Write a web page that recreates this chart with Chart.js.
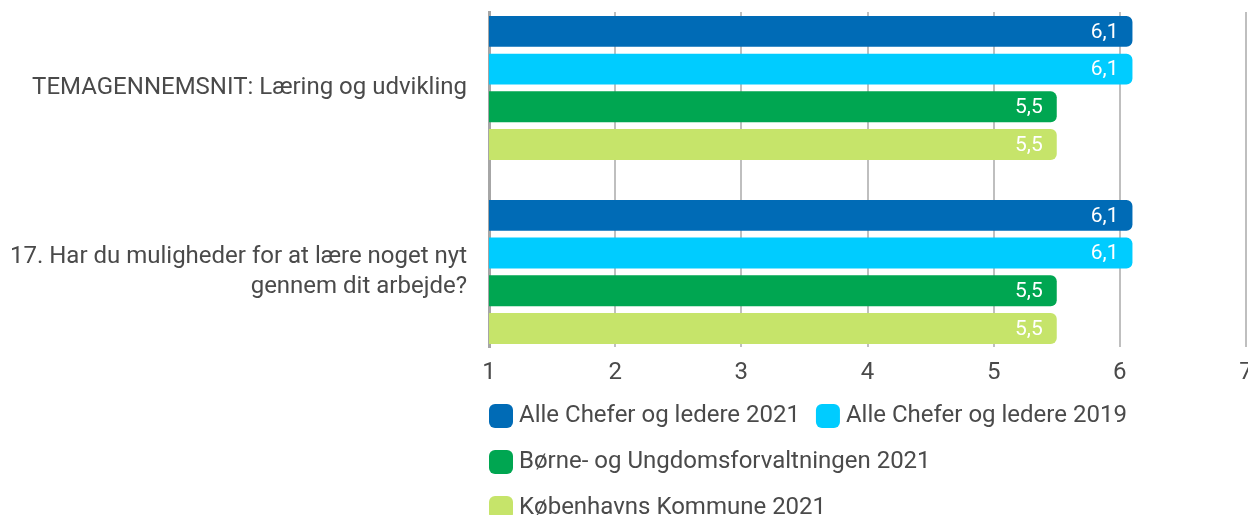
<!DOCTYPE html>
<html>
<head>
<meta charset="utf-8">
<script src="https://cdn.jsdelivr.net/npm/chart.js@4.4.0/dist/chart.umd.min.js"></script>
<style>
  html, body { margin: 0; padding: 0; background: #fff; overflow: hidden; }
  #wrap { position: relative; width: 1248px; height: 530px; }
</style>
</head>
<body>
<div id="wrap"><canvas id="grafico"></canvas></div>
<script>
// --- DATOS ---
const kategorier = [
    'TEMAGENNEMSNIT: Læring og udvikling',
    ['17. Har du muligheder for at lære noget nyt', 'gennem dit arbejde?']
];
const serieNavne = [
    'Alle Chefer og ledere 2021',
    'Alle Chefer og ledere 2019',
    'Børne- og Ungdomsforvaltningen 2021',
    'Københavns Kommune 2021'
];
const chefer2021 = [6.1, 6.1];
const chefer2019 = [6.1, 6.1];
const buf2021 = [5.5, 5.5];
const kk2021 = [5.5, 5.5];
const xTicks = [1, 2, 3, 4, 5, 6, 7];

const farver = ['#006bb6', '#00ccff', '#00a651', '#c6e46a'];
const tekstFarve = '#4a4a4a';

// punkt {x: værdi, y: kategori-indeks}
function tilPunkter(arr) {
    return arr.map((v, i) => ({ x: v, y: i }));
}

// tal inde i søjlerne, med komma
const vaerdiEtiketter = {
    id: 'vaerdiEtiketter',
    afterDatasetsDraw(chart) {
        const ctx = chart.ctx;
        ctx.save();
        ctx.font = '21px Roboto';
        ctx.fillStyle = '#ffffff';
        ctx.textAlign = 'right';
        ctx.textBaseline = 'middle';
        chart.data.datasets.forEach((ds, i) => {
            chart.getDatasetMeta(i).data.forEach((bar, j) => {
                ctx.fillText(String(ds.data[j].x).replace('.', ','), bar.x - 14, bar.y + 1);
            });
        });
        ctx.restore();
    }
};

// legenden starter lidt til venstre for plotområdet
const legendeFlyt = {
    id: 'legendeFlyt',
    afterLayout(chart) {
        const lg = chart.legend;
        if (!lg) return;
        const dx = (chart.chartArea.left - 16) - lg.left;
        lg.left += dx;
        lg.right += dx;
    }
};

const datasets = [chefer2021, chefer2019, buf2021, kk2021].map((serie, i) => ({
    label: serieNavne[i],
    data: tilPunkter(serie),
    backgroundColor: farver[i],
    borderWidth: 0,
    borderRadius: 6,
    borderSkipped: 'start',
    categoryPercentage: 0.82,
    barPercentage: 0.82
}));

new Chart(document.getElementById('grafico'), {
    type: 'bar',
    data: { datasets: datasets },
    plugins: [vaerdiEtiketter, legendeFlyt],
    options: {
        indexAxis: 'y',
        responsive: true,
        maintainAspectRatio: false,
        animation: false,
        layout: { padding: { top: 12, left: 12, right: 2, bottom: 0 } },
        scales: {
            x: {
                type: 'linear',
                min: 1,
                max: 7,
                afterBuildTicks: (scale) => { scale.ticks = xTicks.map(v => ({ value: v })); },
                afterFit: (scale) => {
                    scale.height = 35;
                    scale.paddingLeft = 0;
                    scale.paddingRight = 0;
                },
                grid: { color: '#bfbfbf', lineWidth: 2, drawTicks: false },
                border: { display: false },
                ticks: {
                    padding: 12,
                    color: tekstFarve,
                    font: { family: 'Roboto', size: 24 }
                }
            },
            y: {
                type: 'linear',
                reverse: true,
                offset: false,
                bounds: 'data',
                min: -0.413,
                max: 1.408,
                afterBuildTicks: (scale) => { scale.ticks = kategorier.map((c, i) => ({ value: i })); },
                afterFit: (scale) => {
                    scale.width = 477;
                    scale.paddingTop = 0;
                    scale.paddingBottom = 0;
                },
                grid: { display: false, drawTicks: false },
                border: { display: true, color: '#a6a6a6', width: 3 },
                ticks: {
                    padding: 22,
                    color: tekstFarve,
                    font: { family: 'Roboto', size: 24, lineHeight: 1.25 },
                    callback: (v) => kategorier[v]
                }
            }
        },
        plugins: {
            tooltip: { enabled: false },
            legend: {
                display: true,
                position: 'bottom',
                align: 'start',
                fullSize: false,
                labels: {
                    color: tekstFarve,
                    font: { family: 'Roboto', size: 24 },
                    boxWidth: 12,
                    boxHeight: 12,
                    padding: 22,
                    generateLabels: (chart) => chart.data.datasets.map((ds, i) => ({
                        text: ds.label,
                        fillStyle: ds.backgroundColor,
                        strokeStyle: ds.backgroundColor,
                        lineWidth: 12,
                        lineJoin: 'round',
                        fontColor: tekstFarve,
                        datasetIndex: i,
                        hidden: false
                    }))
                }
            }
        }
    }
});
</script>
</body>
</html>
